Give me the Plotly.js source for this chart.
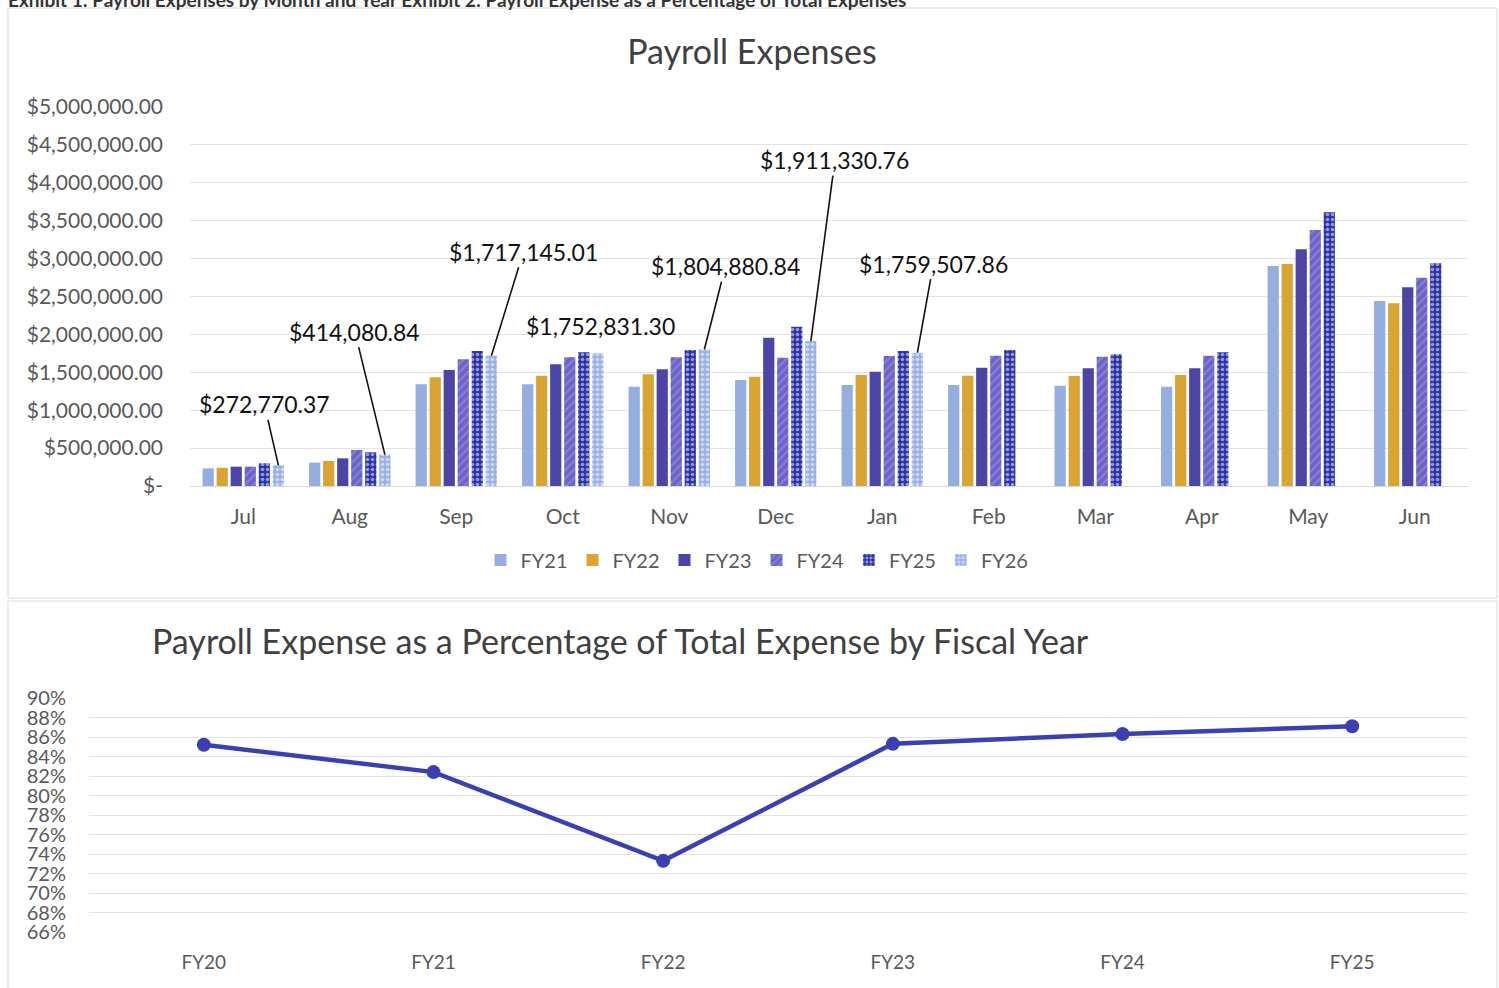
<!DOCTYPE html>
<html>
<head>
<meta charset="utf-8">
<script src="https://cdn.plot.ly/plotly-3.0.1.min.js"></script>
<style>html,body{margin:0;padding:0;background:#fff;}#chart{width:1499px;height:988px;}</style>
</head>
<body>
<div id="chart"></div>
<script>
// ---------- DATA ----------
const months = ["Jul","Aug","Sep","Oct","Nov","Dec","Jan","Feb","Mar","Apr","May","Jun"];
const fy21 = [233000, 308000, 1341000, 1341000, 1310000, 1398000, 1332000, 1332000, 1323000, 1310000, 2902000, 2441000];
const fy22 = [241000, 330000, 1434000, 1455000, 1473000, 1442000, 1464000, 1455000, 1451000, 1464000, 2929000, 2410000];
const fy23 = [255000, 365000, 1530000, 1605000, 1539000, 1956000, 1508000, 1561000, 1552000, 1552000, 3122000, 2621000];
const fy24 = [255000, 475000, 1671000, 1698000, 1698000, 1693000, 1715000, 1719000, 1706000, 1719000, 3377000, 2748000];
const fy25 = [299000, 444000, 1781000, 1764000, 1794000, 2102000, 1781000, 1794000, 1737000, 1764000, 3610000, 2938000];
const fy26 = [272770.37, 414080.84, 1717145.01, 1752831.30, 1804880.84, 1911330.76, 1759507.86, null, null, null, null, null];
const seriesNames = ["FY21","FY22","FY23","FY24","FY25","FY26"];
const yTickVals = [0,500000,1000000,1500000,2000000,2500000,3000000,3500000,4000000,4500000,5000000];
const yTickText = ["$-","$500,000.00","$1,000,000.00","$1,500,000.00","$2,000,000.00","$2,500,000.00","$3,000,000.00","$3,500,000.00","$4,000,000.00","$4,500,000.00","$5,000,000.00"];
const labelText = ["$272,770.37","$414,080.84","$1,717,145.01","$1,752,831.30","$1,804,880.84","$1,911,330.76","$1,759,507.86"];

const fiscalYears = ["FY20","FY21","FY22","FY23","FY24","FY25"];
const payrollPct = [85.2, 82.4, 73.3, 85.3, 86.3, 87.1];
const pctTickVals = [66,68,70,72,74,76,78,80,82,84,86,88,90];

// ---------- STYLE ----------
const FONT = "Lato, 'Open Sans', sans-serif";
const W = 1499, H = 988;
const px = x => x / W;
const py = y => 1 - y / H;

const styles = [
  {color:"#94AEE0"},
  {color:"#D9A431"},
  {color:"#4B46A6"},
  {color:"#6E68CC", pattern:{shape:"/", bgcolor:"#6A64C8", fgcolor:"#A39EE3", size:6, solidity:0.35, fillmode:"overlay"}},
  {color:"#2B33A8", pattern:{shape:".", bgcolor:"#2B33A8", fgcolor:"#FFFFFF", size:5, solidity:0.4, fillmode:"overlay"}},
  {color:"#9BB1E5", pattern:{shape:".", bgcolor:"#9BB1E5", fgcolor:"#FFFFFF", size:5, solidity:0.4, fillmode:"overlay"}}
];
const allSeries = [fy21, fy22, fy23, fy24, fy25, fy26];

const traces = allSeries.map((vals, i) => {
  const m = {color: styles[i].color, line:{width:0}};
  if (styles[i].pattern) m.pattern = styles[i].pattern;
  return {type:"bar", name: seriesNames[i], x: months, y: vals, marker: m,
          xaxis:"x", yaxis:"y", hoverinfo:"x+y+name"};
});

traces.push({
  type:"scatter", mode:"lines+markers", x: fiscalYears, y: payrollPct,
  xaxis:"x2", yaxis:"y2", showlegend:false,
  line:{color:"#3A40B2", width:4.5}, marker:{color:"#3A40B2", size:14}
});

// label annotations for FY26 bars (pixel offsets of the text from the bar top)
const offs = [[-14,-61],[-30,-123],[32,-104],[3,-27],[21,-83],[24,-181],[16,-89]];
const FY26_OFFSET = 0.33;
const annotations = labelText.map((t, i) => {
  const a = {xref:"x", yref:"y", x: i + FY26_OFFSET, y: fy26[i], text: t,
    font:{family:FONT, size:23, color:"#111"}};
  if (i === 3) {
    a.showarrow = false; a.xshift = offs[i][0]; a.yshift = -offs[i][1];
  } else {
    a.showarrow = true; a.arrowhead = 0; a.arrowwidth = 1.6; a.arrowcolor = "#111";
    a.ax = offs[i][0]; a.ay = offs[i][1]; a.standoff = 0;
  }
  return a;
});

annotations.push({
  xref:"paper", yref:"paper", x: px(150), y: py(640), xanchor:"left", yanchor:"middle",
  showarrow:false, text:"Payroll Expense as a Percentage of Total Expense by Fiscal Year",
  font:{family:FONT, size:34, color:"#404040"}
});
annotations.push({
  xref:"paper", yref:"paper", x: px(6), y: 1, xanchor:"left", yanchor:"middle", yshift:1,
  showarrow:false, text:"<b>Exhibit 1: Payroll Expenses by Month and Year Exhibit 2: Payroll Expense as a Percentage of Total Expenses</b>",
  font:{family:FONT, size:19, color:"#333"}
});

const layout = {
  width: W, height: H,
  margin:{l:0, r:0, t:0, b:0},
  paper_bgcolor:"#fff", plot_bgcolor:"#fff",
  font:{family:FONT, color:"#595959"},
  title:{text:"Payroll Expenses", x: px(752), y: py(52), xanchor:"center", yanchor:"middle",
         font:{family:FONT, size:34, color:"#404040"}},
  barmode:"group", bargap:0.21, bargroupgap:0.2,
  xaxis:{domain:[px(190), px(1468)], anchor:"y", type:"category",
         showgrid:false, showline:true, linecolor:"#D9D9D9", ticks:"",
         tickfont:{family:FONT, size:21, color:"#595959"}, ticklabelstandoff:12},
  yaxis:{domain:[py(486), py(107)], anchor:"x", range:[0,5000000],
         tickvals:yTickVals, ticktext:yTickText, showgrid:true, gridcolor:"#E3E3E3",
         zeroline:false, ticks:"", tickfont:{family:FONT, size:21, color:"#595959"},
         ticklabelstandoff:26},
  xaxis2:{domain:[px(89), px(1467)], anchor:"y2", type:"category", range:[-0.5,5.5],
          showgrid:false, showline:false, ticks:"",
          tickfont:{family:FONT, size:19, color:"#595959"}, ticklabelstandoff:17},
  yaxis2:{domain:[py(932), py(698)], anchor:"x2", range:[66,90],
          tickvals:pctTickVals, ticktext:pctTickVals.map(v => v + "%"),
          showgrid:true, gridcolor:"#E3E3E3", zeroline:false, ticks:"",
          tickfont:{family:FONT, size:20, color:"#595959"}, ticklabelstandoff:22},
  legend:{orientation:"h", x: px(757), xanchor:"center", y: py(560), yanchor:"middle",
          font:{family:FONT, size:20, color:"#595959"}, bgcolor:"rgba(0,0,0,0)",
          itemclick:false, itemdoubleclick:false, tracegroupgap:0},
  annotations: annotations,
  shapes:[
    {type:"rect", xref:"paper", yref:"paper", x0:px(8), x1:px(1497), y0:py(598), y1:py(8),
     line:{color:"#D9D9D9", width:1}, fillcolor:"rgba(0,0,0,0)", layer:"below"},
    {type:"rect", xref:"paper", yref:"paper", x0:px(8), x1:px(1497), y0:py(990), y1:py(601),
     line:{color:"#D9D9D9", width:1}, fillcolor:"rgba(0,0,0,0)", layer:"below"}
  ],
  showlegend:true
};

Plotly.newPlot("chart", traces, layout, {displayModeBar:false, staticPlot:true});
</script>
</body>
</html>
